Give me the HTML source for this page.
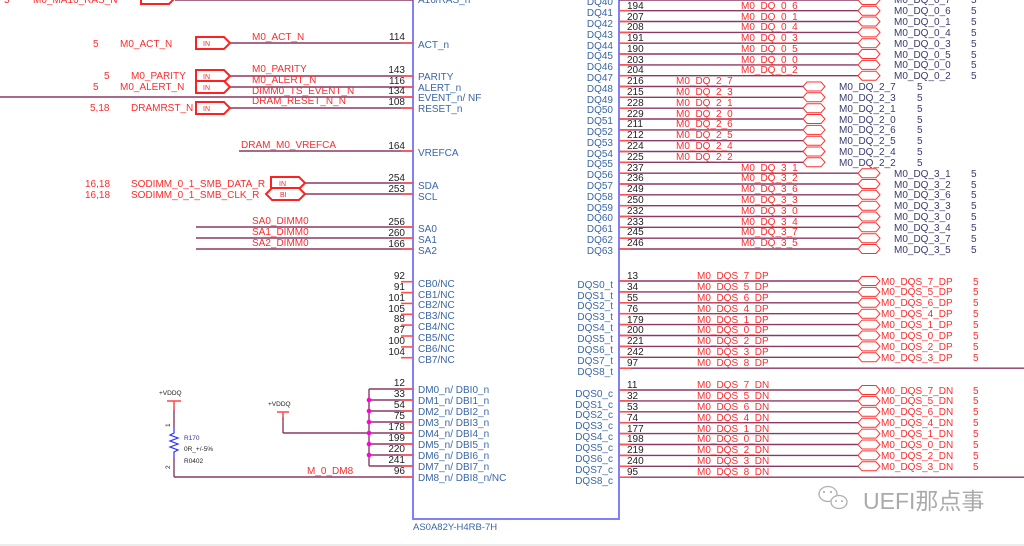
<!DOCTYPE html>
<html><head><meta charset="utf-8"><style>
html,body{margin:0;padding:0;background:#fff;}
svg{display:block;font-family:"Liberation Sans",Arial,sans-serif;font-size:10px;}
.b{fill:#3a66a6}.r{fill:#ff2a2a}.k{fill:#222}.n{fill:#3a3a6e}
.w{stroke:#8a3a62;stroke-width:1.4}
.s{stroke:#ff5050;stroke-width:1.6}
</style></head><body>
<svg width="1024" height="546" viewBox="0 0 1024 546" xmlns="http://www.w3.org/2000/svg">
<defs>
<polygon id="cn" points="0,0 4,-4.5 18,-4.5 22,0 18,4.5 4,4.5" fill="#fff" stroke="#ff3030" stroke-width="1"/>
<polygon id="pin" points="0,-6 28,-6 34,0 28,6 0,6" fill="#fff" stroke="#ff2020" stroke-width="2"/>
</defs>
<line x1="0" y1="545" x2="1024" y2="545" stroke="#e6e6e6" stroke-width="1.5"/>
<path d="M413,-5 V519 H619 V-5" fill="none" stroke="#8080ff" stroke-width="2"/>
<text x="413" y="530" class="b" font-size="9.5">AS0A82Y-H4RB-7H</text>

<g class="w"><line x1="175" y1="0" x2="413" y2="0"/><line x1="230" y1="43" x2="413" y2="43"/><line x1="230" y1="76" x2="413" y2="76"/><line x1="230" y1="87" x2="413" y2="87"/><line x1="0" y1="97" x2="413" y2="97"/><line x1="230" y1="108" x2="413" y2="108"/><line x1="239" y1="151" x2="413" y2="151"/><line x1="305" y1="183" x2="413" y2="183"/><line x1="305" y1="194" x2="413" y2="194"/><line x1="196" y1="227" x2="413" y2="227"/><line x1="196" y1="238" x2="413" y2="238"/><line x1="196" y1="249" x2="413" y2="249"/></g>
<g class="s"><line x1="401" y1="43" x2="413" y2="43"/><line x1="401" y1="76" x2="413" y2="76"/><line x1="401" y1="87" x2="413" y2="87"/><line x1="401" y1="97" x2="413" y2="97"/><line x1="401" y1="108" x2="413" y2="108"/><line x1="401" y1="151" x2="413" y2="151"/><line x1="401" y1="183" x2="413" y2="183"/><line x1="401" y1="194" x2="413" y2="194"/><line x1="401" y1="227" x2="413" y2="227"/><line x1="401" y1="238" x2="413" y2="238"/><line x1="401" y1="249" x2="413" y2="249"/></g>
<use href="#pin" x="141" y="-2"/>
<use href="#pin" x="196" y="43"/><use href="#pin" x="196" y="76"/><use href="#pin" x="196" y="87"/><use href="#pin" x="196" y="108"/>
<use href="#pin" x="271" y="183"/>
<polygon points="266,194 272,188 299,188 305,194 299,200 272,200" fill="#fff" stroke="#ff2020" stroke-width="2"/>
<g font-size="7" class="r"><text x="203" y="46">IN</text><text x="203" y="79">IN</text><text x="203" y="90">IN</text><text x="203" y="111">IN</text><text x="279" y="186">IN</text><text x="280" y="197">BI</text></g>
<g class="r">
<text x="4" y="3">5</text><text x="33" y="3">M0_MA16_RAS_N</text>
<text x="93" y="47">5</text><text x="120" y="47">M0_ACT_N</text>
<text x="104" y="79">5</text><text x="131" y="79">M0_PARITY</text>
<text x="93" y="90">5</text><text x="120" y="90">M0_ALERT_N</text>
<text x="90" y="111">5,18</text><text x="131" y="111">DRAMRST_N</text>
<text x="85" y="187">16,18</text><text x="131" y="187">SODIMM_0_1_SMB_DATA_R</text>
<text x="85" y="198">16,18</text><text x="131" y="198">SODIMM_0_1_SMB_CLK_R</text>
<text x="252" y="40">M0_ACT_N</text>
<text x="252" y="72">M0_PARITY</text><text x="252" y="83">M0_ALERT_N</text><text x="252" y="94">DIMM0_TS_EVENT_N</text><text x="252" y="104">DRAM_RESET_N_N</text>
<text x="241" y="148">DRAM_M0_VREFCA</text>
<text x="252" y="224">SA0_DIMM0</text><text x="252" y="235">SA1_DIMM0</text><text x="252" y="246">SA2_DIMM0</text>
</g>
<g class="k" text-anchor="end">
<text x="405" y="40">114</text><text x="405" y="73">143</text><text x="405" y="84">116</text><text x="405" y="94">134</text><text x="405" y="105">108</text>
<text x="405" y="149">164</text><text x="405" y="181">254</text><text x="405" y="192">253</text>
<text x="405" y="225">256</text><text x="405" y="236">260</text><text x="405" y="247">166</text>
</g>
<g class="b">
<text x="418" y="3">A16/RAS_n</text>
<text x="418" y="48">ACT_n</text><text x="418" y="80">PARITY</text><text x="418" y="91">ALERT_n</text><text x="418" y="101">EVENT_n/ NF</text><text x="418" y="112">RESET_n</text>
<text x="418" y="156">VREFCA</text><text x="418" y="189">SDA</text><text x="418" y="200">SCL</text>
<text x="418" y="232">SA0</text><text x="418" y="243">SA1</text><text x="418" y="254">SA2</text>
</g>

<g class="s"><line x1="401" y1="281.7" x2="413" y2="281.7"/><line x1="401" y1="292.6" x2="413" y2="292.6"/><line x1="401" y1="303.4" x2="413" y2="303.4"/><line x1="401" y1="314.3" x2="413" y2="314.3"/><line x1="401" y1="325.1" x2="413" y2="325.1"/><line x1="401" y1="336" x2="413" y2="336"/><line x1="401" y1="346.9" x2="413" y2="346.9"/><line x1="401" y1="357.7" x2="413" y2="357.7"/></g>
<g class="k" text-anchor="end"><text x="405" y="279">92</text><text x="405" y="290">91</text><text x="405" y="301">101</text><text x="405" y="312">105</text><text x="405" y="322">88</text><text x="405" y="333">87</text><text x="405" y="344">100</text><text x="405" y="355">104</text></g>
<g class="b"><text x="418" y="287">CB0/NC</text><text x="418" y="298">CB1/NC</text><text x="418" y="308">CB2/NC</text><text x="418" y="319">CB3/NC</text><text x="418" y="330">CB4/NC</text><text x="418" y="341">CB5/NC</text><text x="418" y="352">CB6/NC</text><text x="418" y="363">CB7/NC</text></g>

<g class="w"><line x1="369" y1="389" x2="369" y2="466"/><line x1="369" y1="389" x2="413" y2="389"/><line x1="369" y1="400" x2="413" y2="400"/><line x1="369" y1="411" x2="413" y2="411"/><line x1="369" y1="422" x2="413" y2="422"/><line x1="283" y1="433" x2="413" y2="433"/><line x1="369" y1="444" x2="413" y2="444"/><line x1="369" y1="455" x2="413" y2="455"/><line x1="369" y1="466" x2="413" y2="466"/><line x1="174" y1="477" x2="413" y2="477"/><line x1="283" y1="417" x2="283" y2="433"/><line x1="174" y1="410" x2="174" y2="428"/><line x1="174" y1="458" x2="174" y2="477"/></g>
<g class="s"><line x1="401" y1="389" x2="413" y2="389"/><line x1="401" y1="400" x2="413" y2="400"/><line x1="401" y1="411" x2="413" y2="411"/><line x1="401" y1="422" x2="413" y2="422"/><line x1="401" y1="433" x2="413" y2="433"/><line x1="401" y1="444" x2="413" y2="444"/><line x1="401" y1="455" x2="413" y2="455"/><line x1="401" y1="466" x2="413" y2="466"/><line x1="401" y1="477" x2="413" y2="477"/>
<line x1="167" y1="401" x2="181" y2="401"/><line x1="174" y1="401" x2="174" y2="410"/><line x1="277" y1="412" x2="289" y2="412"/><line x1="283" y1="412" x2="283" y2="418"/></g>
<g fill="#ff00dd"><circle cx="369" cy="400" r="2.3"/><circle cx="369" cy="411" r="2.3"/><circle cx="369" cy="422" r="2.3"/><circle cx="369" cy="433" r="2.3"/><circle cx="369" cy="444" r="2.3"/><circle cx="369" cy="455" r="2.3"/></g>
<polyline points="174,428 174,433 170,435 178,438 170,441 178,444 170,447 178,450 174,452 174,458" fill="none" stroke="#3030ff" stroke-width="1.2"/>
<g font-size="6.5" class="k"><text x="159" y="395">+VDDQ</text><text x="268" y="406">+VDDQ</text>
<text x="0" y="0" transform="translate(170,427) rotate(-90)">1</text><text x="0" y="0" transform="translate(170,469) rotate(-90)">2</text>
<text x="184" y="440" fill="#3030a0">R170</text><text x="184" y="451">0R_+/-5%</text><text x="184" y="463">R0402</text></g>
<text x="307" y="474" class="r">M_0_DM8</text>
<g class="k" text-anchor="end"><text x="405" y="386">12</text><text x="405" y="397">33</text><text x="405" y="408">54</text><text x="405" y="419">75</text><text x="405" y="430">178</text><text x="405" y="441">199</text><text x="405" y="452">220</text><text x="405" y="463">241</text><text x="405" y="474">96</text></g>
<g class="b"><text x="418" y="393">DM0_n/ DBI0_n</text><text x="418" y="404">DM1_n/ DBI1_n</text><text x="418" y="415">DM2_n/ DBI2_n</text><text x="418" y="426">DM3_n/ DBI3_n</text><text x="418" y="437">DM4_n/ DBI4_n</text><text x="418" y="448">DM5_n/ DBI5_n</text><text x="418" y="459">DM6_n/ DBI6_n</text><text x="418" y="470">DM7_n/ DBI7_n</text><text x="418" y="481">DM8_n/ DBI8_n/NC</text></g>

<g class="w">
<line x1="619" y1="0" x2="858" y2="0"/><line x1="619" y1="10.7" x2="858" y2="10.7"/><line x1="619" y1="21.5" x2="858" y2="21.5"/><line x1="619" y1="32.4" x2="858" y2="32.4"/><line x1="619" y1="43.2" x2="858" y2="43.2"/><line x1="619" y1="54" x2="858" y2="54"/><line x1="619" y1="64.9" x2="858" y2="64.9"/><line x1="619" y1="75.7" x2="858" y2="75.7"/>
<line x1="619" y1="86.5" x2="803" y2="86.5"/><line x1="619" y1="97.3" x2="803" y2="97.3"/><line x1="619" y1="108.2" x2="803" y2="108.2"/><line x1="619" y1="119" x2="803" y2="119"/><line x1="619" y1="129.9" x2="803" y2="129.9"/><line x1="619" y1="140.7" x2="803" y2="140.7"/><line x1="619" y1="151.5" x2="803" y2="151.5"/><line x1="619" y1="162.3" x2="803" y2="162.3"/>
<line x1="619" y1="173.2" x2="858" y2="173.2"/><line x1="619" y1="184" x2="858" y2="184"/><line x1="619" y1="194.8" x2="858" y2="194.8"/><line x1="619" y1="205.7" x2="858" y2="205.7"/><line x1="619" y1="216.5" x2="858" y2="216.5"/><line x1="619" y1="227.3" x2="858" y2="227.3"/><line x1="619" y1="238.2" x2="858" y2="238.2"/><line x1="619" y1="249" x2="858" y2="249"/>
</g>
<g class="s">
<line x1="619" y1="10.7" x2="631" y2="10.7"/><line x1="619" y1="21.5" x2="631" y2="21.5"/><line x1="619" y1="32.4" x2="631" y2="32.4"/><line x1="619" y1="43.2" x2="631" y2="43.2"/><line x1="619" y1="54" x2="631" y2="54"/><line x1="619" y1="64.9" x2="631" y2="64.9"/><line x1="619" y1="75.7" x2="631" y2="75.7"/><line x1="619" y1="86.5" x2="631" y2="86.5"/><line x1="619" y1="97.3" x2="631" y2="97.3"/><line x1="619" y1="108.2" x2="631" y2="108.2"/><line x1="619" y1="119" x2="631" y2="119"/><line x1="619" y1="129.9" x2="631" y2="129.9"/><line x1="619" y1="140.7" x2="631" y2="140.7"/><line x1="619" y1="151.5" x2="631" y2="151.5"/><line x1="619" y1="162.3" x2="631" y2="162.3"/><line x1="619" y1="173.2" x2="631" y2="173.2"/><line x1="619" y1="184" x2="631" y2="184"/><line x1="619" y1="194.8" x2="631" y2="194.8"/><line x1="619" y1="205.7" x2="631" y2="205.7"/><line x1="619" y1="216.5" x2="631" y2="216.5"/><line x1="619" y1="227.3" x2="631" y2="227.3"/><line x1="619" y1="238.2" x2="631" y2="238.2"/><line x1="619" y1="249" x2="631" y2="249"/>
</g>
<use href="#cn" x="858" y="0"/><use href="#cn" x="858" y="10.7"/><use href="#cn" x="858" y="21.5"/><use href="#cn" x="858" y="32.4"/><use href="#cn" x="858" y="43.2"/><use href="#cn" x="858" y="54"/><use href="#cn" x="858" y="64.9"/><use href="#cn" x="858" y="75.7"/>
<use href="#cn" x="803" y="86.5"/><use href="#cn" x="803" y="97.3"/><use href="#cn" x="803" y="108.2"/><use href="#cn" x="803" y="119"/><use href="#cn" x="803" y="129.9"/><use href="#cn" x="803" y="140.7"/><use href="#cn" x="803" y="151.5"/><use href="#cn" x="803" y="162.3"/>
<use href="#cn" x="858" y="173.2"/><use href="#cn" x="858" y="184"/><use href="#cn" x="858" y="194.8"/><use href="#cn" x="858" y="205.7"/><use href="#cn" x="858" y="216.5"/><use href="#cn" x="858" y="227.3"/><use href="#cn" x="858" y="238.2"/><use href="#cn" x="858" y="249"/>
<g class="b" text-anchor="end">
<text x="613" y="5">DQ40</text><text x="613" y="16">DQ41</text><text x="613" y="27">DQ42</text><text x="613" y="38">DQ43</text><text x="613" y="49">DQ44</text><text x="613" y="59">DQ45</text><text x="613" y="70">DQ46</text><text x="613" y="81">DQ47</text><text x="613" y="92">DQ48</text><text x="613" y="103">DQ49</text><text x="613" y="113">DQ50</text><text x="613" y="124">DQ51</text><text x="613" y="135">DQ52</text><text x="613" y="146">DQ53</text><text x="613" y="157">DQ54</text><text x="613" y="167">DQ55</text><text x="613" y="178">DQ56</text><text x="613" y="189">DQ57</text><text x="613" y="200">DQ58</text><text x="613" y="211">DQ59</text><text x="613" y="221">DQ60</text><text x="613" y="232">DQ61</text><text x="613" y="243">DQ62</text><text x="613" y="254">DQ63</text>
</g>
<g class="k">
<text x="627" y="9">194</text><text x="627" y="20">207</text><text x="627" y="30">208</text><text x="627" y="41">191</text><text x="627" y="52">190</text><text x="627" y="63">203</text><text x="627" y="73">204</text><text x="627" y="84">216</text><text x="627" y="95">215</text><text x="627" y="106">228</text><text x="627" y="117">229</text><text x="627" y="127">211</text><text x="627" y="138">212</text><text x="627" y="149">224</text><text x="627" y="160">225</text><text x="627" y="171">237</text><text x="627" y="181">236</text><text x="627" y="192">249</text><text x="627" y="203">250</text><text x="627" y="214">232</text><text x="627" y="225">233</text><text x="627" y="235">245</text><text x="627" y="246">246</text>
</g>
<g class="r">
<text x="741" y="9">M0_DQ_0_6</text><text x="741" y="20">M0_DQ_0_1</text><text x="741" y="30">M0_DQ_0_4</text><text x="741" y="41">M0_DQ_0_3</text><text x="741" y="52">M0_DQ_0_5</text><text x="741" y="63">M0_DQ_0_0</text><text x="741" y="73">M0_DQ_0_2</text>
<text x="676" y="84">M0_DQ_2_7</text><text x="676" y="95">M0_DQ_2_3</text><text x="676" y="106">M0_DQ_2_1</text><text x="676" y="117">M0_DQ_2_0</text><text x="676" y="127">M0_DQ_2_6</text><text x="676" y="138">M0_DQ_2_5</text><text x="676" y="149">M0_DQ_2_4</text><text x="676" y="160">M0_DQ_2_2</text>
<text x="741" y="171">M0_DQ_3_1</text><text x="741" y="181">M0_DQ_3_2</text><text x="741" y="192">M0_DQ_3_6</text><text x="741" y="203">M0_DQ_3_3</text><text x="741" y="214">M0_DQ_3_0</text><text x="741" y="225">M0_DQ_3_4</text><text x="741" y="235">M0_DQ_3_7</text><text x="741" y="246">M0_DQ_3_5</text>
</g>
<g class="n">
<text x="894" y="3">M0_DQ_0_7</text><text x="894" y="14">M0_DQ_0_6</text><text x="894" y="25">M0_DQ_0_1</text><text x="894" y="36">M0_DQ_0_4</text><text x="894" y="47">M0_DQ_0_3</text><text x="894" y="58">M0_DQ_0_5</text><text x="894" y="68">M0_DQ_0_0</text><text x="894" y="79">M0_DQ_0_2</text>
<text x="839" y="90">M0_DQ_2_7</text><text x="839" y="101">M0_DQ_2_3</text><text x="839" y="112">M0_DQ_2_1</text><text x="839" y="123">M0_DQ_2_0</text><text x="839" y="133">M0_DQ_2_6</text><text x="839" y="144">M0_DQ_2_5</text><text x="839" y="155">M0_DQ_2_4</text><text x="839" y="166">M0_DQ_2_2</text>
<text x="894" y="177">M0_DQ_3_1</text><text x="894" y="188">M0_DQ_3_2</text><text x="894" y="198">M0_DQ_3_6</text><text x="894" y="209">M0_DQ_3_3</text><text x="894" y="220">M0_DQ_3_0</text><text x="894" y="231">M0_DQ_3_4</text><text x="894" y="242">M0_DQ_3_7</text><text x="894" y="253">M0_DQ_3_5</text>
<text x="971" y="3">5</text><text x="971" y="14">5</text><text x="971" y="25">5</text><text x="971" y="36">5</text><text x="971" y="47">5</text><text x="971" y="58">5</text><text x="971" y="68">5</text><text x="971" y="79">5</text>
<text x="917" y="90">5</text><text x="917" y="101">5</text><text x="917" y="112">5</text><text x="917" y="123">5</text><text x="917" y="133">5</text><text x="917" y="144">5</text><text x="917" y="155">5</text><text x="917" y="166">5</text>
<text x="971" y="177">5</text><text x="971" y="188">5</text><text x="971" y="198">5</text><text x="971" y="209">5</text><text x="971" y="220">5</text><text x="971" y="231">5</text><text x="971" y="242">5</text><text x="971" y="253">5</text>
</g>

<g class="w">
<line x1="619" y1="281" x2="858" y2="281"/><line x1="619" y1="291.9" x2="858" y2="291.9"/><line x1="619" y1="302.8" x2="858" y2="302.8"/><line x1="619" y1="313.7" x2="858" y2="313.7"/><line x1="619" y1="324.6" x2="858" y2="324.6"/><line x1="619" y1="335.5" x2="858" y2="335.5"/><line x1="619" y1="346.4" x2="858" y2="346.4"/><line x1="619" y1="357.3" x2="858" y2="357.3"/><line x1="619" y1="368.2" x2="1024" y2="368.2"/>
<line x1="619" y1="390" x2="858" y2="390"/><line x1="619" y1="400.9" x2="858" y2="400.9"/><line x1="619" y1="411.8" x2="858" y2="411.8"/><line x1="619" y1="422.7" x2="858" y2="422.7"/><line x1="619" y1="433.6" x2="858" y2="433.6"/><line x1="619" y1="444.5" x2="858" y2="444.5"/><line x1="619" y1="455.4" x2="858" y2="455.4"/><line x1="619" y1="466.3" x2="858" y2="466.3"/><line x1="619" y1="477.2" x2="1024" y2="477.2"/>
</g>
<g class="s">
<line x1="619" y1="281" x2="631" y2="281"/><line x1="619" y1="291.9" x2="631" y2="291.9"/><line x1="619" y1="302.8" x2="631" y2="302.8"/><line x1="619" y1="313.7" x2="631" y2="313.7"/><line x1="619" y1="324.6" x2="631" y2="324.6"/><line x1="619" y1="335.5" x2="631" y2="335.5"/><line x1="619" y1="346.4" x2="631" y2="346.4"/><line x1="619" y1="357.3" x2="631" y2="357.3"/><line x1="619" y1="368.2" x2="631" y2="368.2"/>
<line x1="619" y1="390" x2="631" y2="390"/><line x1="619" y1="400.9" x2="631" y2="400.9"/><line x1="619" y1="411.8" x2="631" y2="411.8"/><line x1="619" y1="422.7" x2="631" y2="422.7"/><line x1="619" y1="433.6" x2="631" y2="433.6"/><line x1="619" y1="444.5" x2="631" y2="444.5"/><line x1="619" y1="455.4" x2="631" y2="455.4"/><line x1="619" y1="466.3" x2="631" y2="466.3"/><line x1="619" y1="477.2" x2="631" y2="477.2"/>
</g>
<use href="#cn" x="858" y="281"/><use href="#cn" x="858" y="291.9"/><use href="#cn" x="858" y="302.8"/><use href="#cn" x="858" y="313.7"/><use href="#cn" x="858" y="324.6"/><use href="#cn" x="858" y="335.5"/><use href="#cn" x="858" y="346.4"/><use href="#cn" x="858" y="357.3"/>
<use href="#cn" x="858" y="390"/><use href="#cn" x="858" y="400.9"/><use href="#cn" x="858" y="411.8"/><use href="#cn" x="858" y="422.7"/><use href="#cn" x="858" y="433.6"/><use href="#cn" x="858" y="444.5"/><use href="#cn" x="858" y="455.4"/><use href="#cn" x="858" y="466.3"/>
<g class="b" text-anchor="end">
<text x="613" y="288">DQS0_t</text><text x="613" y="299">DQS1_t</text><text x="613" y="309">DQS2_t</text><text x="613" y="320">DQS3_t</text><text x="613" y="331">DQS4_t</text><text x="613" y="342">DQS5_t</text><text x="613" y="353">DQS6_t</text><text x="613" y="364">DQS7_t</text><text x="613" y="375">DQS8_t</text>
<text x="613" y="397">DQS0_c</text><text x="613" y="408">DQS1_c</text><text x="613" y="418">DQS2_c</text><text x="613" y="429">DQS3_c</text><text x="613" y="440">DQS4_c</text><text x="613" y="451">DQS5_c</text><text x="613" y="462">DQS6_c</text><text x="613" y="473">DQS7_c</text><text x="613" y="484">DQS8_c</text>
</g>
<g class="k">
<text x="627" y="279">13</text><text x="627" y="290">34</text><text x="627" y="301">55</text><text x="627" y="312">76</text><text x="627" y="323">179</text><text x="627" y="333">200</text><text x="627" y="344">221</text><text x="627" y="355">242</text><text x="627" y="366">97</text>
<text x="627" y="388">11</text><text x="627" y="399">32</text><text x="627" y="410">53</text><text x="627" y="421">74</text><text x="627" y="432">177</text><text x="627" y="442">198</text><text x="627" y="453">219</text><text x="627" y="464">240</text><text x="627" y="475">95</text>
</g>
<g class="r">
<text x="697" y="279">M0_DQS_7_DP</text><text x="697" y="290">M0_DQS_5_DP</text><text x="697" y="301">M0_DQS_6_DP</text><text x="697" y="312">M0_DQS_4_DP</text><text x="697" y="323">M0_DQS_1_DP</text><text x="697" y="333">M0_DQS_0_DP</text><text x="697" y="344">M0_DQS_2_DP</text><text x="697" y="355">M0_DQS_3_DP</text><text x="697" y="366">M0_DQS_8_DP</text>
<text x="697" y="388">M0_DQS_7_DN</text><text x="697" y="399">M0_DQS_5_DN</text><text x="697" y="410">M0_DQS_6_DN</text><text x="697" y="421">M0_DQS_4_DN</text><text x="697" y="432">M0_DQS_1_DN</text><text x="697" y="442">M0_DQS_0_DN</text><text x="697" y="453">M0_DQS_2_DN</text><text x="697" y="464">M0_DQS_3_DN</text><text x="697" y="475">M0_DQS_8_DN</text>
<text x="881" y="285">M0_DQS_7_DP</text><text x="881" y="295">M0_DQS_5_DP</text><text x="881" y="306">M0_DQS_6_DP</text><text x="881" y="317">M0_DQS_4_DP</text><text x="881" y="328">M0_DQS_1_DP</text><text x="881" y="339">M0_DQS_0_DP</text><text x="881" y="350">M0_DQS_2_DP</text><text x="881" y="361">M0_DQS_3_DP</text>
<text x="881" y="394">M0_DQS_7_DN</text><text x="881" y="404">M0_DQS_5_DN</text><text x="881" y="415">M0_DQS_6_DN</text><text x="881" y="426">M0_DQS_4_DN</text><text x="881" y="437">M0_DQS_1_DN</text><text x="881" y="448">M0_DQS_0_DN</text><text x="881" y="459">M0_DQS_2_DN</text><text x="881" y="470">M0_DQS_3_DN</text>
<text x="973" y="285">5</text><text x="973" y="295">5</text><text x="973" y="306">5</text><text x="973" y="317">5</text><text x="973" y="328">5</text><text x="973" y="339">5</text><text x="973" y="350">5</text><text x="973" y="361">5</text>
<text x="973" y="394">5</text><text x="973" y="404">5</text><text x="973" y="415">5</text><text x="973" y="426">5</text><text x="973" y="437">5</text><text x="973" y="448">5</text><text x="973" y="459">5</text><text x="973" y="470">5</text>
</g>

<g fill="none" stroke="#b0b0b0" stroke-width="1.3">
<ellipse cx="828" cy="494" rx="9" ry="7.5"/><ellipse cx="839" cy="502" rx="8" ry="6.5" fill="#fff"/>
</g>
<g fill="#b0b0b0"><circle cx="824" cy="492" r="1.1"/><circle cx="831" cy="492" r="1.1"/><circle cx="836" cy="501" r="1"/><circle cx="842" cy="501" r="1"/></g>
<text x="863" y="509" font-size="23" fill="#aaa" font-family="'Liberation Sans','Noto Sans CJK SC',sans-serif">UEFI那点事</text>
</svg>
</body></html>
